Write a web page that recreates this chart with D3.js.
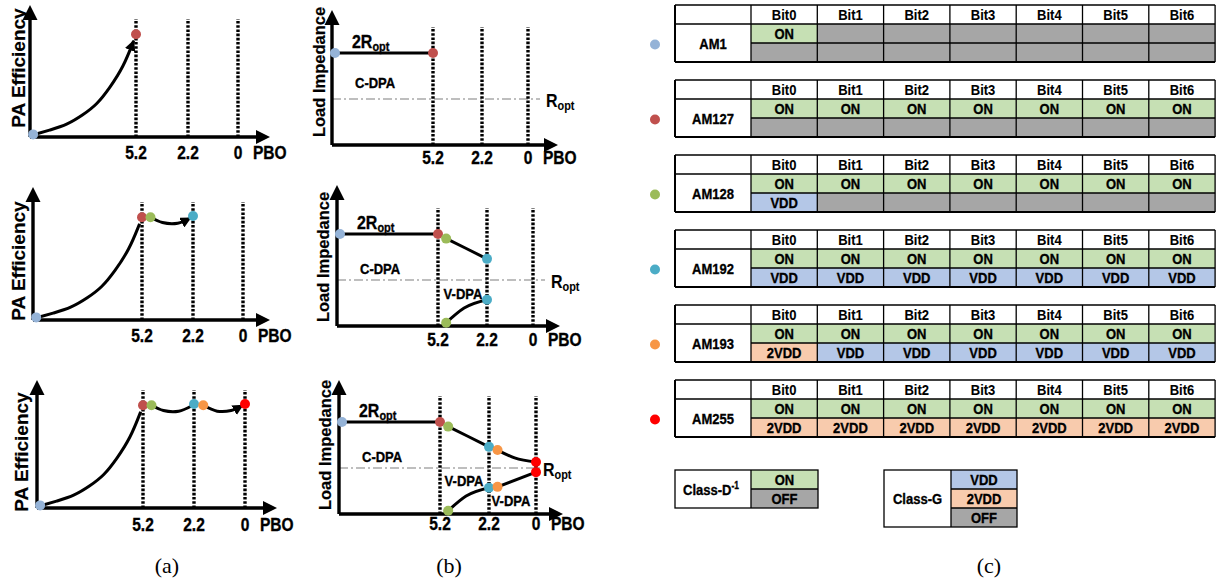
<!DOCTYPE html>
<html><head><meta charset="utf-8">
<script src="https://cdn.jsdelivr.net/npm/d3@7"></script>
<style>body{margin:0;background:#fff} svg{display:block}</style>
</head><body><svg id="c" width="1218" height="584"></svg>
<script>
// ---------------- data ----------------
const states = ["AM1","AM127","AM128","AM192","AM193","AM255"];
const stateColors = ["#95b3d7","#c0504d","#9bbb59","#4bacc6","#f79646","#ff0000"];
const pboTicks = [5.2, 2.2, 0];
const pboTickLabels = ["5.2","2.2","0"];
const statePBO = [11.8, 5.2, 4.7, 2.2, 1.8, 0];
const stateEff = [0.02, 0.79, 0.79, 0.80, 0.79, 0.80];
const effRise = [[11.85,0.015],[10.7,0.054],[9.6,0.095],[8.6,0.17],[7.7,0.25],[6.9,0.375],[6.0,0.54],[5.35,0.74]];
const effStep1 = [[4.7,0.79],[4.0,0.75],[3.1,0.745],[2.35,0.785]];
const effStep2 = [[1.8,0.79],[1.2,0.745],[0.6,0.75],[0.1,0.79]];
const zUpperState = [2, 2, 1.9, 1.46, 1.39, 1.13];
const zLowerState = [null, null, 0.07, 0.57, 0.59, 0.91];
const zMainLine = [[11.8,2],[5.2,2]];
const zUpper1 = [[4.7,1.9],[3.5,1.69],[2.2,1.46]];
const zUpper2 = [[1.8,1.39],[1.0,1.22],[0,1.13]];
const zLower1 = [[4.7,0.07],[3.6,0.39],[2.2,0.57]];
const zLower2 = [[1.8,0.59],[0,0.91]];
const bits = ["Bit0","Bit1","Bit2","Bit3","Bit4","Bit5","Bit6"];
const classDRows = [
  "ON OFF OFF OFF OFF OFF OFF", "ON ON ON ON ON ON ON", "ON ON ON ON ON ON ON",
  "ON ON ON ON ON ON ON", "ON ON ON ON ON ON ON", "ON ON ON ON ON ON ON"].map(s=>s.split(" "));
const classGRows = [
  "OFF OFF OFF OFF OFF OFF OFF", "OFF OFF OFF OFF OFF OFF OFF", "VDD OFF OFF OFF OFF OFF OFF",
  "VDD VDD VDD VDD VDD VDD VDD", "2VDD VDD VDD VDD VDD VDD VDD", "2VDD 2VDD 2VDD 2VDD 2VDD 2VDD 2VDD"].map(s=>s.split(" "));
const classDLegend = ["ON","OFF"];
const classGLegend = ["VDD","2VDD","OFF"];
const cellColors = {ON:"#c6e0b4", OFF:"#a6a6a6", VDD:"#b4c7e7", "2VDD":"#f8cbad"};
const captions = ["(a)","(b)","(c)"];

// ---------------- fonts ----------------
const NARROW_OK = (() => {
  const c = document.createElement('canvas').getContext('2d');
  c.font = 'bold 40px monospace'; const w1 = c.measureText('PA Efficiency 5.2').width;
  c.font = 'bold 40px "Liberation Sans Narrow", monospace'; const w2 = c.measureText('PA Efficiency 5.2').width;
  return Math.abs(w1 - w2) > 1;
})();
const NFONT = NARROW_OK ? '"Liberation Sans Narrow","Arial Narrow",sans-serif' : '"Liberation Sans",Arial,sans-serif';
const SX = NARROW_OK ? 1 : 0.84;
const WFONT = '"Liberation Sans",Arial,sans-serif';

const svg = d3.select("#c");
svg.append("rect").attr("width",1218).attr("height",584).attr("fill","#fff");
const defs = svg.append("defs");
defs.append("marker").attr("id","arr").attr("viewBox","0 0 10 10").attr("refX",9).attr("refY",5)
  .attr("markerWidth",11).attr("markerHeight",11).attr("markerUnits","userSpaceOnUse").attr("orient","auto")
  .append("path").attr("d","M0,0L10,5L0,10z").attr("fill","#000");

function ntext(g, x, y, str, size, opts={}) {
  const t = g.append("text")
    .attr("transform", `translate(${x},${y})${opts.rotate?` rotate(${opts.rotate})`:""} scale(${opts.wide?1:SX},1)`)
    .attr("font-family", opts.wide ? WFONT : NFONT)
    .attr("font-size", size).attr("font-weight", opts.weight || "bold")
    .attr("text-anchor", opts.anchor || "middle").attr("fill", "#000")
    .attr("stroke", "#000").attr("stroke-width", opts.sw !== undefined ? opts.sw : 0.35);
  if (str !== null) t.text(str);
  return t;
}

function drawAxes(g, p, xs) {
  pboTicks.forEach(v => {
    g.append("line").attr("x1", xs(v)).attr("x2", xs(v)).attr("y1", p.axisY).attr("y2", p.axisY - 118)
      .attr("stroke","#000").attr("stroke-width",3.4).attr("stroke-dasharray","2.6,1.6");
  });
  g.append("path").attr("d", `M${p.x0},${p.axisY}H${p.xTip-12}M${p.x0},${p.axisY}V${p.yTip+12}`)
    .attr("stroke","#000").attr("stroke-width",3.4).attr("fill","none");
  g.append("path").attr("d", `M${p.xTip},${p.axisY}L${p.xTip-14},${p.axisY-7}L${p.xTip-14},${p.axisY+7}Z`).attr("fill","#000");
  g.append("path").attr("d", `M${p.x0},${p.yTip}L${p.x0-7.5},${p.yTip+15}L${p.x0+7.5},${p.yTip+15}Z`).attr("fill","#000");
  pboTicks.forEach((v,i) => ntext(g, xs(v), p.axisY + p.tickDy + 6.5, pboTickLabels[i], 18.5));
  ntext(g, xs(0) + 15, p.axisY + p.tickDy + 6.5, "PBO", 18.5, {anchor:"start"});
}

function dot(g, x, y, i) {
  g.append("circle").attr("cx", x).attr("cy", y).attr("r", 5).attr("fill", stateColors[i]);
}

// ---------------- panel (a) ----------------
const panelsA = [
  {x0:30, axisY:137, ticks:[106,158,208], xTip:270, yTip:5,   labX:25, labY:68,  tickDy:15, n:2},
  {x0:33, axisY:320, ticks:[109,160,210], xTip:270, yTip:187, labX:25, labY:261, tickDy:15, n:4},
  {x0:37, axisY:508, ticks:[106,157,208], xTip:277, yTip:380, labX:28, labY:452, tickDy:16, n:6},
];
panelsA.forEach((p, r) => {
  const g = svg.append("g");
  const xs = d3.scaleLinear().domain([12, ...pboTicks]).range([p.x0, ...p.ticks.map(t => p.x0 + t)]);
  const ys = d3.scaleLinear().domain([0,1]).range([p.axisY, p.axisY - 130]);
  drawAxes(g, p, xs);
  ntext(g, p.labX, p.labY, "PA Efficiency", 19, {rotate:-90, wide:true, sw:0.2});
  const riseLine = d3.line().x(d => xs(d[0])).y(d => ys(d[1])).curve(d3.curveBasis);
  const line = d3.line().x(d => xs(d[0])).y(d => ys(d[1])).curve(d3.curveCatmullRom.alpha(0.5));
  const segs = [effRise, effStep1, effStep2].slice(0, r + 1);
  segs.forEach((s, k) => {
    const path = g.append("path").attr("d", (k === 0 ? riseLine : line)(s)).attr("fill","none").attr("stroke","#000").attr("stroke-width",3);
    if (k === segs.length - 1) path.attr("marker-end","url(#arr)");
  });
  for (let i = 0; i < p.n; i++) dot(g, xs(statePBO[i]), ys(stateEff[i]), i);
});

// ---------------- panel (b) ----------------
const panelsB = [
  {x0:332, axisY:145, ticks:[101,150,196], xTip:558, yTip:10,  labX:325, labY:72,  tickDy:12, roptEnd:540, roptLab:546, cdpaZ:1.35, n:2},
  {x0:337, axisY:326, ticks:[101,150,196], xTip:560, yTip:185, labX:329, labY:257, tickDy:13, roptEnd:545, roptLab:551, cdpaZ:1.26, n:4},
  {x0:339, axisY:514, ticks:[101,150,197], xTip:563, yTip:380, labX:331, labY:445, tickDy:9,  roptEnd:540, roptLab:543, cdpaZ:1.26, n:6},
];
const vdpaLabels = [[], [[3.67,0.7]], [[3.73,0.72],[1.17,0.3]]];
panelsB.forEach((p, r) => {
  const g = svg.append("g");
  const xs = d3.scaleLinear().domain([12, ...pboTicks]).range([p.x0, ...p.ticks.map(t => p.x0 + t)]);
  const zs = d3.scaleLinear().domain([0,2]).range([p.axisY, p.axisY - 92]);
  g.append("line").attr("x1", p.x0).attr("x2", p.roptEnd).attr("y1", zs(1)).attr("y2", zs(1))
    .attr("stroke","#7f7f7f").attr("stroke-width",1.2).attr("stroke-dasharray","9,3,2,3");
  drawAxes(g, p, xs);
  ntext(g, p.labX, p.labY, "Load Impedance", 16.5, {rotate:-90, wide:true, sw:0.2});
  const line = d3.line().x(d => xs(d[0])).y(d => zs(d[1])).curve(d3.curveMonotoneX);
  const paths = [zMainLine];
  if (r >= 1) paths.push(zUpper1, zLower1);
  if (r >= 2) paths.push([[2.2,1.46],[1.8,1.39]], zUpper2, [[2.2,0.57],[1.8,0.59]], zLower2);
  paths.forEach(s => g.append("path").attr("d", line(s)).attr("fill","none").attr("stroke","#000").attr("stroke-width",3));
  const t2 = ntext(g, p.x0 + 20, zs(2.25) + 6, null, 19, {anchor:"start"});
  t2.append("tspan").text("2R");
  t2.append("tspan").attr("font-size",13).attr("dy",3).text("opt");
  ntext(g, p.x0 + 23, zs(p.cdpaZ) + 5.5, "C-DPA", 15.5, {anchor:"start"});
  const tr = ntext(g, p.roptLab, zs(1) + 8, null, 19, {anchor:"start", sw:0.1});
  tr.append("tspan").text("R");
  tr.append("tspan").attr("font-size",13).attr("dy",3).text("opt");
  vdpaLabels[r].forEach(v => ntext(g, xs(v[0]), zs(v[1]) + 5.5, "V-DPA", 15.5));
  for (let i = 0; i < p.n; i++) {
    dot(g, xs(statePBO[i]), zs(zUpperState[i]), i);
    if (zLowerState[i] !== null) dot(g, xs(statePBO[i]), zs(zLowerState[i]), i);
  }
});

// ---------------- panel (c) tables ----------------
const T = {x:675, labW:76, cellW:66.3, rowH:19, top0:5, step:75, dotX:655};
states.forEach((s, i) => {
  const g = svg.append("g");
  const top = T.top0 + i * T.step;
  const rows = [null, classDRows[i], classGRows[i]];
  g.append("rect").attr("x",T.x).attr("y",top).attr("width",T.labW).attr("height",3*T.rowH).attr("fill","#fff");
  ntext(g, T.x + T.labW/2, top + 2*T.rowH + 5.5, s, 15.5);
  bits.forEach((b, j) => {
    const x = T.x + T.labW + j * T.cellW;
    g.append("rect").attr("x",x).attr("y",top).attr("width",T.cellW).attr("height",T.rowH).attr("fill","#fff");
    ntext(g, x + T.cellW/2, top + T.rowH/2 + 5.5, b, 15.5, {sw:0.1});
    [1,2].forEach(k => {
      const v = rows[k][j];
      g.append("rect").attr("x",x).attr("y",top + k*T.rowH).attr("width",T.cellW).attr("height",T.rowH).attr("fill",cellColors[v]);
      if (v !== "OFF") ntext(g, x + T.cellW/2, top + k*T.rowH + T.rowH/2 + 5.5, v, 15.5);
    });
  });
  const W = T.labW + 7*T.cellW;
  const gl = g.append("g").attr("stroke","#000").attr("stroke-width",1.3);
  gl.append("line").attr("x1",T.x).attr("x2",T.x+W).attr("y1",top).attr("y2",top);
  gl.append("line").attr("x1",T.x).attr("x2",T.x+W).attr("y1",top+3*T.rowH).attr("y2",top+3*T.rowH).attr("stroke-width",2);
  gl.append("line").attr("x1",T.x).attr("x2",T.x+W).attr("y1",top+T.rowH).attr("y2",top+T.rowH);
  gl.append("line").attr("x1",T.x+T.labW).attr("x2",T.x+W).attr("y1",top+2*T.rowH).attr("y2",top+2*T.rowH);
  gl.append("line").attr("x1",T.x).attr("x2",T.x).attr("y1",top).attr("y2",top+3*T.rowH).attr("stroke-width",2);
  for (let j = 0; j <= 7; j++) {
    const x = T.x + T.labW + j*T.cellW;
    gl.append("line").attr("x1",x).attr("x2",x).attr("y1",top).attr("y2",top+3*T.rowH);
  }
  g.append("circle").attr("cx",T.dotX).attr("cy",top + 39.5).attr("r",5).attr("fill",stateColors[i]);
});

function legend(x, y, labW, cellW, values, labelFn) {
  const g = svg.append("g");
  const h = values.length * T.rowH;
  g.append("rect").attr("x",x).attr("y",y).attr("width",labW).attr("height",h).attr("fill","#fff");
  values.forEach((v, k) => {
    g.append("rect").attr("x",x+labW).attr("y",y+k*T.rowH).attr("width",cellW).attr("height",T.rowH).attr("fill",cellColors[v]);
    ntext(g, x + labW + cellW/2, y + k*T.rowH + T.rowH/2 + 5.5, v, 15.5);
  });
  const gl = g.append("g").attr("stroke","#000").attr("stroke-width",1.3).attr("fill","none");
  gl.append("rect").attr("x",x).attr("y",y).attr("width",labW+cellW).attr("height",h);
  gl.append("line").attr("x1",x+labW).attr("x2",x+labW).attr("y1",y).attr("y2",y+h);
  for (let k = 1; k < values.length; k++)
    gl.append("line").attr("x1",x+labW).attr("x2",x+labW+cellW).attr("y1",y+k*T.rowH).attr("y2",y+k*T.rowH);
  labelFn(g, x + labW/2, y + h/2 + 5.5);
}
legend(675, 470, 76, 67, classDLegend, (g, cx, cy) => {
  const t = ntext(g, cx - 2, cy, null, 15.5);
  t.append("tspan").text("Class-D");
  t.append("tspan").attr("font-size",10).attr("dy",-6).text("-1");
});
legend(884, 470, 67, 66, classGLegend, (g, cx, cy) => ntext(g, cx, cy, "Class-G", 15.5));

[[167,573],[449,573],[989,573]].forEach((c, i) => {
  svg.append("text").attr("x",c[0]).attr("y",c[1]).attr("text-anchor","middle")
    .attr("font-family",'"Liberation Serif","Times New Roman",serif').attr("font-size",22).text(captions[i]);
});
</script>
</body></html>
